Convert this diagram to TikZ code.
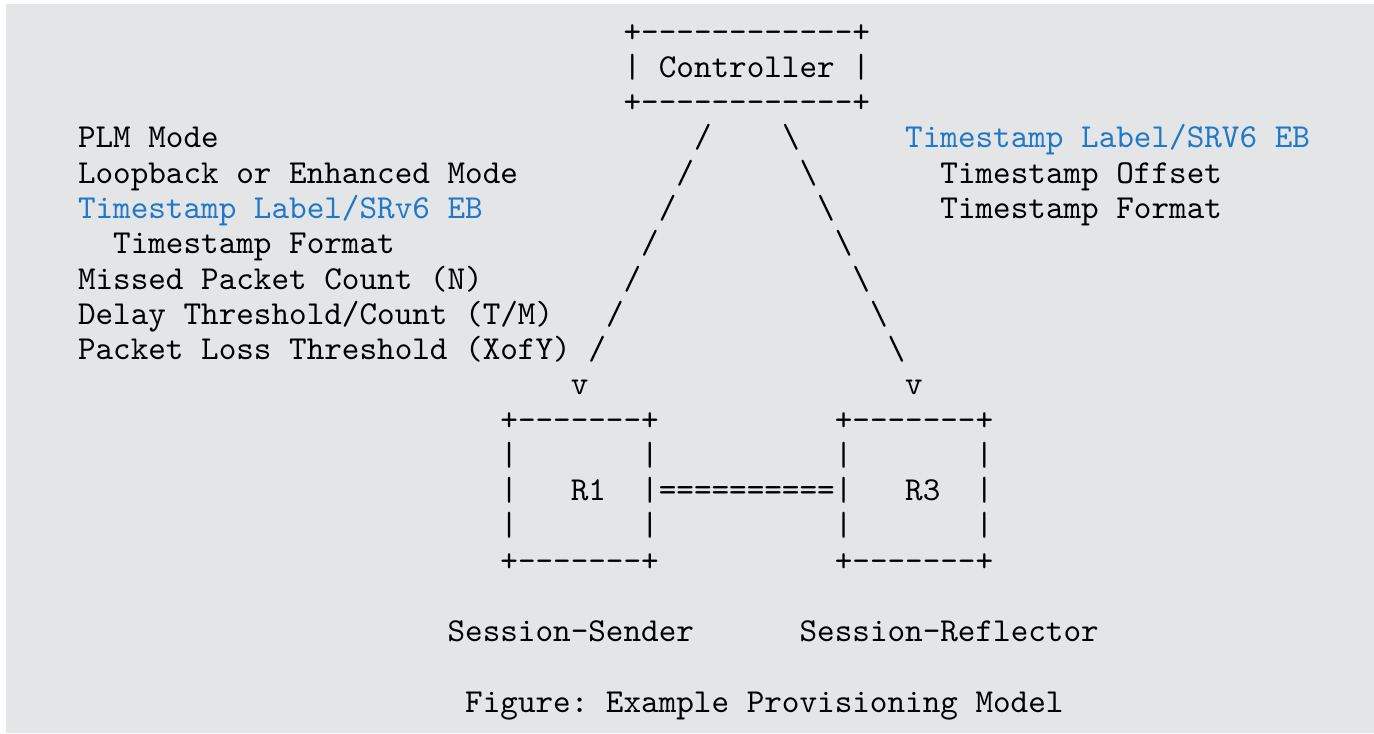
\documentclass[tikz,border=0pt]{standalone}
\usepackage{fontspec}
\setmonofont{lmmono10-regular.otf}
\frenchspacing
\definecolor{bggray}{HTML}{E4E5E7}
\definecolor{rfcblue}{HTML}{1F78C8}
\begin{document}
\begin{tikzpicture}[x=0.75pt,y=-0.75pt,
  every node/.style={inner sep=0pt, outer sep=0pt, anchor=base west,
    font=\ttfamily\fontsize{25.14}{30}\selectfont\frenchspacing, text=black},
  hl/.style={text=rfcblue}]
\useasboundingbox (0,0) rectangle (1374,733);
\fill[bggray] (6,4) rectangle (1374,733);
\begin{scope}[shift={(78,42.2)}, x=13.2pt, y=-26.445pt]
% Controller box
\node (ctrltop) at (31,0) {+------------+};
\node (ctrl)    at (31,1) {| Controller |};
\node (ctrlbot) at (31,2) {+------------+};
% left parameters
\node (plm)   at (0,3) {PLM Mode};
\node (loop)  at (0,4) {Loopback or Enhanced Mode};
\node[hl] (tsl) at (0,5) {Timestamp Label/SRv6 EB};
\node (tsf)   at (2,6) {Timestamp Format};
\node (miss)  at (0,7) {Missed Packet Count (N)};
\node (delay) at (0,8) {Delay Threshold/Count (T/M)};
\node (loss)  at (0,9) {Packet Loss Threshold (XofY)};
% right parameters
\node[hl] (rtsl) at (47,3) {Timestamp Label/SRV6 EB};
\node (rtso) at (49,4) {Timestamp Offset};
\node (rtsf) at (49,5) {Timestamp Format};
% left slashes
\node (l1) at (35,3) {/};
\node (l2) at (34,4) {/};
\node (l3) at (33,5) {/};
\node (l4) at (32,6) {/};
\node (l5) at (31,7) {/};
\node (l6) at (30,8) {/};
\node (l7) at (29,9) {/};
\node (lv) at (28,10) {v};
% right backslashes
\node (r1) at (40,3) {\textbackslash};
\node (r2) at (41,4) {\textbackslash};
\node (r3) at (42,5) {\textbackslash};
\node (r4) at (43,6) {\textbackslash};
\node (r5) at (44,7) {\textbackslash};
\node (r6) at (45,8) {\textbackslash};
\node (r7) at (46,9) {\textbackslash};
\node (rv) at (47,10) {v};
% R1 box
\node (r1top) at (24,11) {+-------+};
\node (r1a)   at (24,12) {|};
\node (r1b)   at (32,12) {|};
\node (r1l)   at (24,13) {|};
\node (r1name) at (28,13) {R1};
\node (link)  at (32,13) {|==========|};
\node (r1c)   at (24,14) {|};
\node (r1d)   at (32,14) {|};
\node (r1bot) at (24,15) {+-------+};
% R3 box
\node (r3top) at (43,11) {+-------+};
\node (r3a)   at (43,12) {|};
\node (r3b)   at (51,12) {|};
\node (r3name) at (47,13) {R3};
\node (r3r)   at (51,13) {|};
\node (r3c)   at (43,14) {|};
\node (r3d)   at (51,14) {|};
\node (r3bot) at (43,15) {+-------+};
% labels
\node (sender)    at (21,17) {Session-Sender};
\node (reflector) at (41,17) {Session-Reflector};
\node (caption)   at (22,19) {Figure: Example Provisioning Model};
\end{scope}
\end{tikzpicture}
\end{document}
